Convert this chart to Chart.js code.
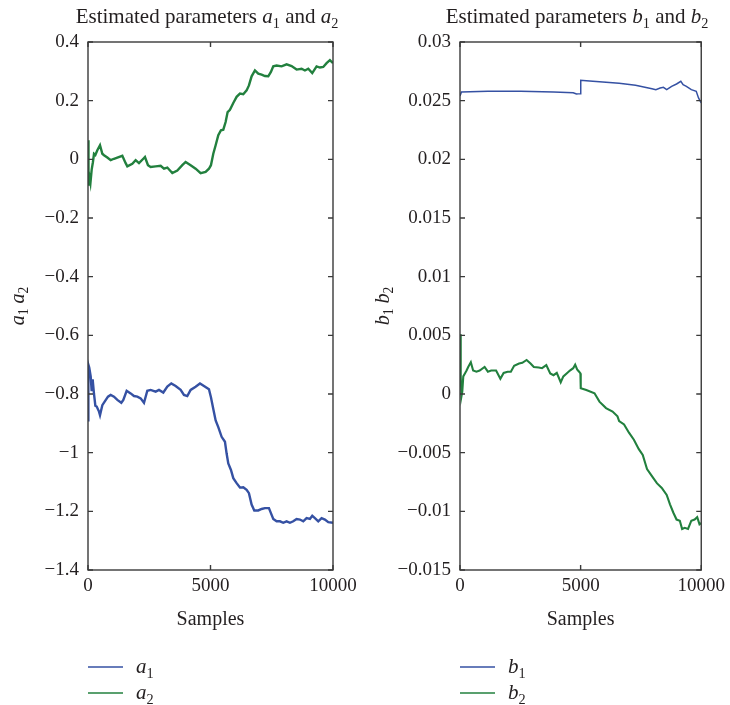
<!DOCTYPE html>
<html><head><meta charset="utf-8">
<script src="https://cdn.jsdelivr.net/npm/chart.js@4.4.1/dist/chart.umd.min.js"></script>
<style>
html,body{margin:0;padding:0;background:#fff;width:730px;height:705px;overflow:hidden}
.box{position:absolute;top:0;width:365px;height:705px}
</style></head><body>
<div class="box" style="left:0"><canvas id="c1" width="365" height="705"></canvas></div>
<div class="box" style="left:365px"><canvas id="c2" width="365" height="705"></canvas></div>
<script>
// ---- data ----
const a1Samples = [0,15,50,110,150,190,245,300,354,449,490,585,680,816,925,1061,1197,1360,1442,1578,1741,1877,2013,2149,2285,2421,2557,2761,2897,3074,3237,3400,3577,3781,3917,4053,4189,4393,4570,4733,4937,5018,5114,5210,5318,5454,5590,5658,5726,5835,5930,6066,6202,6338,6474,6569,6678,6787,6950,7086,7222,7385,7466,7562,7698,7834,7970,8106,8242,8378,8514,8650,8786,8922,9058,9153,9262,9398,9534,9670,9806,10000];
const a1Values = [-0.89,-0.70,-0.71,-0.74,-0.79,-0.75,-0.80,-0.84,-0.843,-0.860,-0.872,-0.838,-0.826,-0.809,-0.803,-0.809,-0.820,-0.830,-0.820,-0.789,-0.798,-0.807,-0.809,-0.815,-0.830,-0.789,-0.786,-0.792,-0.786,-0.795,-0.775,-0.764,-0.773,-0.786,-0.803,-0.807,-0.786,-0.775,-0.764,-0.773,-0.784,-0.811,-0.851,-0.890,-0.913,-0.946,-0.963,-1.003,-1.037,-1.059,-1.087,-1.104,-1.119,-1.118,-1.127,-1.138,-1.177,-1.197,-1.197,-1.192,-1.189,-1.189,-1.206,-1.226,-1.234,-1.234,-1.239,-1.234,-1.239,-1.234,-1.226,-1.228,-1.234,-1.223,-1.226,-1.215,-1.223,-1.234,-1.223,-1.228,-1.237,-1.239];

const a2Samples = [0,20,60,100,150,200,245,300,381,490,585,653,789,925,1061,1197,1401,1537,1605,1809,1945,2081,2257,2325,2448,2557,2761,2965,3101,3237,3441,3645,3849,3985,4189,4393,4597,4801,4937,5018,5114,5210,5318,5427,5522,5617,5699,5794,5930,6066,6202,6338,6474,6569,6678,6814,6950,7086,7222,7358,7466,7562,7698,7902,8106,8310,8514,8718,8854,8990,9153,9330,9466,9602,9738,9874,10000];
const a2Values = [0.065,-0.09,-0.06,-0.08,-0.035,-0.01,0.019,0.015,0.031,0.048,0.019,0.014,0.006,-0.003,0.002,0.006,0.012,-0.013,-0.024,-0.015,-0.003,-0.013,0.002,0.008,-0.020,-0.026,-0.024,-0.022,-0.032,-0.028,-0.047,-0.038,-0.020,-0.009,-0.020,-0.032,-0.047,-0.043,-0.032,-0.020,0.019,0.048,0.082,0.099,0.101,0.127,0.161,0.169,0.192,0.213,0.224,0.222,0.235,0.252,0.283,0.303,0.292,0.289,0.284,0.283,0.298,0.317,0.320,0.317,0.324,0.318,0.306,0.309,0.303,0.309,0.294,0.317,0.313,0.315,0.328,0.338,0.328];

const b1Samples = [0,60,1156,2516,3876,4692,4828,4990,5005,5236,5916,6596,7276,7956,8119,8296,8432,8568,8772,8976,9153,9248,9384,9588,9792,9887,10000];
const b1Values = [0.0254,0.02574,0.02580,0.02580,0.02574,0.02568,0.02557,0.02560,0.02673,0.02670,0.02659,0.02648,0.02631,0.02602,0.02594,0.02608,0.02614,0.02594,0.02622,0.02642,0.02665,0.02636,0.02622,0.02594,0.02580,0.02523,0.0248];

const b2Samples = [0,30,60,95,136,204,272,340,449,544,680,816,1020,1156,1292,1496,1673,1809,1972,2108,2244,2448,2584,2761,2924,3060,3264,3400,3577,3740,3876,4012,4175,4284,4420,4556,4692,4774,4855,4937,4991,5005,5236,5576,5780,6052,6324,6528,6596,6800,7004,7208,7412,7575,7752,7956,8160,8364,8568,8704,8840,8976,9112,9207,9316,9452,9588,9724,9833,9928,10000];
const b2Values = [0.0051,0.0015,-0.0002,0.0002,0.0015,0.00175,0.002,0.0023,0.0027,0.002,0.0019,0.002,0.0023,0.0019,0.002,0.002,0.0013,0.0018,0.0019,0.0019,0.0024,0.0026,0.00266,0.0029,0.0026,0.0023,0.00226,0.0022,0.00246,0.00175,0.0016,0.0018,0.001,0.0015,0.00175,0.002,0.0022,0.0025,0.0021,0.0019,0.00175,0.0005,0.00034,0.00006,-0.00065,-0.0012,-0.0015,-0.0019,-0.0023,-0.0026,-0.0033,-0.0039,-0.0047,-0.0052,-0.0064,-0.007,-0.0076,-0.008,-0.0086,-0.0094,-0.0101,-0.0107,-0.0108,-0.0115,-0.0114,-0.0115,-0.0108,-0.0107,-0.0105,-0.0111,-0.011];

const xTicks = [0, 5000, 10000];
const xTickLabels = ['0', '5000', '10000'];
const yTicksA = [-1.4,-1.2,-1,-0.8,-0.6,-0.4,-0.2,0,0.2,0.4];
const yTickLabelsA = ['\u22121.4','\u22121.2','\u22121','\u22120.8','\u22120.6','\u22120.4','\u22120.2','0','0.2','0.4'];
const yTicksB = [-0.015,-0.01,-0.005,0,0.005,0.01,0.015,0.02,0.025,0.03];
const yTickLabelsB = ['\u22120.015','\u22120.01','\u22120.005','0','0.005','0.01','0.015','0.02','0.025','0.03'];

const BLUE = '#3551a3';
const GREEN = '#22803e';
const TXT = '#231f20';
const FONT = '"Liberation Serif", "DejaVu Serif", serif';

function pts(xs, ys) { return xs.map((x, i) => ({x: x, y: ys[i]})); }

// rich text: parts [{t, it, sub}]
function richWidth(ctx, parts, size) {
  let w = 0;
  for (const p of parts) {
    const s = p.sub ? size * 0.68 : size;
    ctx.font = (p.it ? 'italic ' : '') + s + 'px ' + FONT;
    w += ctx.measureText(p.t).width;
  }
  return w;
}
function drawRich(ctx, parts, x, y, size, align) {
  let w = richWidth(ctx, parts, size);
  let cx = align === 'center' ? x - w / 2 : x;
  ctx.textBaseline = 'alphabetic';
  ctx.textAlign = 'left';
  ctx.fillStyle = TXT;
  for (const p of parts) {
    const s = p.sub ? size * 0.68 : size;
    ctx.font = (p.it ? 'italic ' : '') + s + 'px ' + FONT;
    ctx.fillText(p.t, cx, p.sub ? y + size * 0.22 : y);
    cx += ctx.measureText(p.t).width;
  }
}

function makeChart(id, cfg) {
  const deco = {
    id: 'deco',
    afterDraw(chart) {
      const {ctx, chartArea: a, scales: {x, y}} = chart;
      ctx.save();
      ctx.strokeStyle = '#3a3a3a';
      ctx.lineWidth = 1.4;
      ctx.strokeRect(a.left, a.top, a.right - a.left, a.bottom - a.top);
      ctx.beginPath();
      const L = 5;
      for (const v of cfg.yTicks) {
        const py = y.getPixelForValue(v);
        ctx.moveTo(a.left, py); ctx.lineTo(a.left + L, py);
        ctx.moveTo(a.right, py); ctx.lineTo(a.right - L, py);
      }
      for (const v of xTicks) {
        const px = x.getPixelForValue(v);
        ctx.moveTo(px, a.bottom); ctx.lineTo(px, a.bottom - L);
        ctx.moveTo(px, a.top); ctx.lineTo(px, a.top + L);
      }
      ctx.stroke();
      // title
      drawRich(ctx, cfg.title, cfg.titleX, 23, 21, 'center');
      // x axis title
      ctx.font = '20px ' + FONT;
      ctx.fillStyle = TXT;
      ctx.textAlign = 'center';
      ctx.textBaseline = 'alphabetic';
      ctx.fillText('Samples', (a.left + a.right) / 2, 625);
      // y axis title (rotated)
      ctx.save();
      ctx.translate(cfg.yTitleX, (a.top + a.bottom) / 2);
      ctx.rotate(-Math.PI / 2);
      drawRich(ctx, cfg.yTitle, 0, 0, 20, 'center');
      ctx.restore();
      // legend
      chart.data.datasets.forEach((ds, i) => {
        const ly = 667 + i * 26;
        ctx.strokeStyle = ds.borderColor;
        ctx.lineWidth = 1.3;
        ctx.beginPath();
        ctx.moveTo(a.left, ly); ctx.lineTo(a.left + 35, ly);
        ctx.stroke();
        drawRich(ctx, cfg.legend[i], a.left + 48, ly + 6, 21, 'left');
      });
      ctx.restore();
    }
  };
  return new Chart(document.getElementById(id), {
    type: 'line',
    data: {
      datasets: cfg.series.map(s => ({
        label: s.label,
        data: pts(s.xs, s.ys),
        borderColor: s.color,
        borderWidth: s.width,
        pointRadius: 0,
        tension: 0,
        fill: false
      }))
    },
    options: {
      responsive: false,
      animation: false,
      layout: {padding: {top: 42, left: 0, right: cfg.padRight, bottom: 0}},
      plugins: {legend: {display: false}, title: {display: false}, tooltip: {enabled: false}},
      scales: {
        x: {
          type: 'linear', min: 0, max: 10000,
          grid: {display: false, drawTicks: false},
          border: {display: false},
          afterBuildTicks: sc => { sc.ticks = xTicks.map(v => ({value: v})); },
          afterFit: sc => { sc.height = 135; },
          ticks: {
            padding: 5, color: TXT, maxRotation: 0, autoSkip: false,
            font: {family: FONT, size: 19},
            callback: (v) => xTickLabels[xTicks.indexOf(v)]
          }
        },
        y: {
          type: 'linear', min: cfg.yMin, max: cfg.yMax,
          grid: {display: false, drawTicks: false},
          border: {display: false},
          afterBuildTicks: sc => { sc.ticks = cfg.yTicks.map(v => ({value: v})); },
          afterFit: sc => { sc.width = cfg.yWidth; },
          ticks: {
            padding: 9, color: TXT, autoSkip: false,
            font: {family: FONT, size: 19},
            callback: (v, i) => cfg.yLabels[i]
          }
        }
      }
    },
    plugins: [deco]
  });
}

makeChart('c1', {
  series: [
    {label: 'a1', xs: a1Samples, ys: a1Values, color: BLUE, width: 2.4},
    {label: 'a2', xs: a2Samples, ys: a2Values, color: GREEN, width: 2.4}
  ],
  yMin: -1.4, yMax: 0.4, yTicks: yTicksA, yLabels: yTickLabelsA,
  yWidth: 88, padRight: 32, titleX: 207, yTitleX: 24,
  title: [{t: 'Estimated parameters '}, {t: 'a', it: true}, {t: '1', sub: true}, {t: ' and '}, {t: 'a', it: true}, {t: '2', sub: true}],
  yTitle: [{t: 'a', it: true}, {t: '1', sub: true}, {t: ' '}, {t: 'a', it: true}, {t: '2', sub: true}],
  legend: [[{t: 'a', it: true}, {t: '1', sub: true}], [{t: 'a', it: true}, {t: '2', sub: true}]]
});

makeChart('c2', {
  series: [
    {label: 'b1', xs: b1Samples, ys: b1Values, color: BLUE, width: 1.5},
    {label: 'b2', xs: b2Samples, ys: b2Values, color: GREEN, width: 2.1}
  ],
  yMin: -0.015, yMax: 0.03, yTicks: yTicksB, yLabels: yTickLabelsB,
  yWidth: 95, padRight: 25, titleX: 212, yTitleX: 24,
  title: [{t: 'Estimated parameters '}, {t: 'b', it: true}, {t: '1', sub: true}, {t: ' and '}, {t: 'b', it: true}, {t: '2', sub: true}],
  yTitle: [{t: 'b', it: true}, {t: '1', sub: true}, {t: ' '}, {t: 'b', it: true}, {t: '2', sub: true}],
  legend: [[{t: 'b', it: true}, {t: '1', sub: true}], [{t: 'b', it: true}, {t: '2', sub: true}]]
});
</script>
</body></html>
